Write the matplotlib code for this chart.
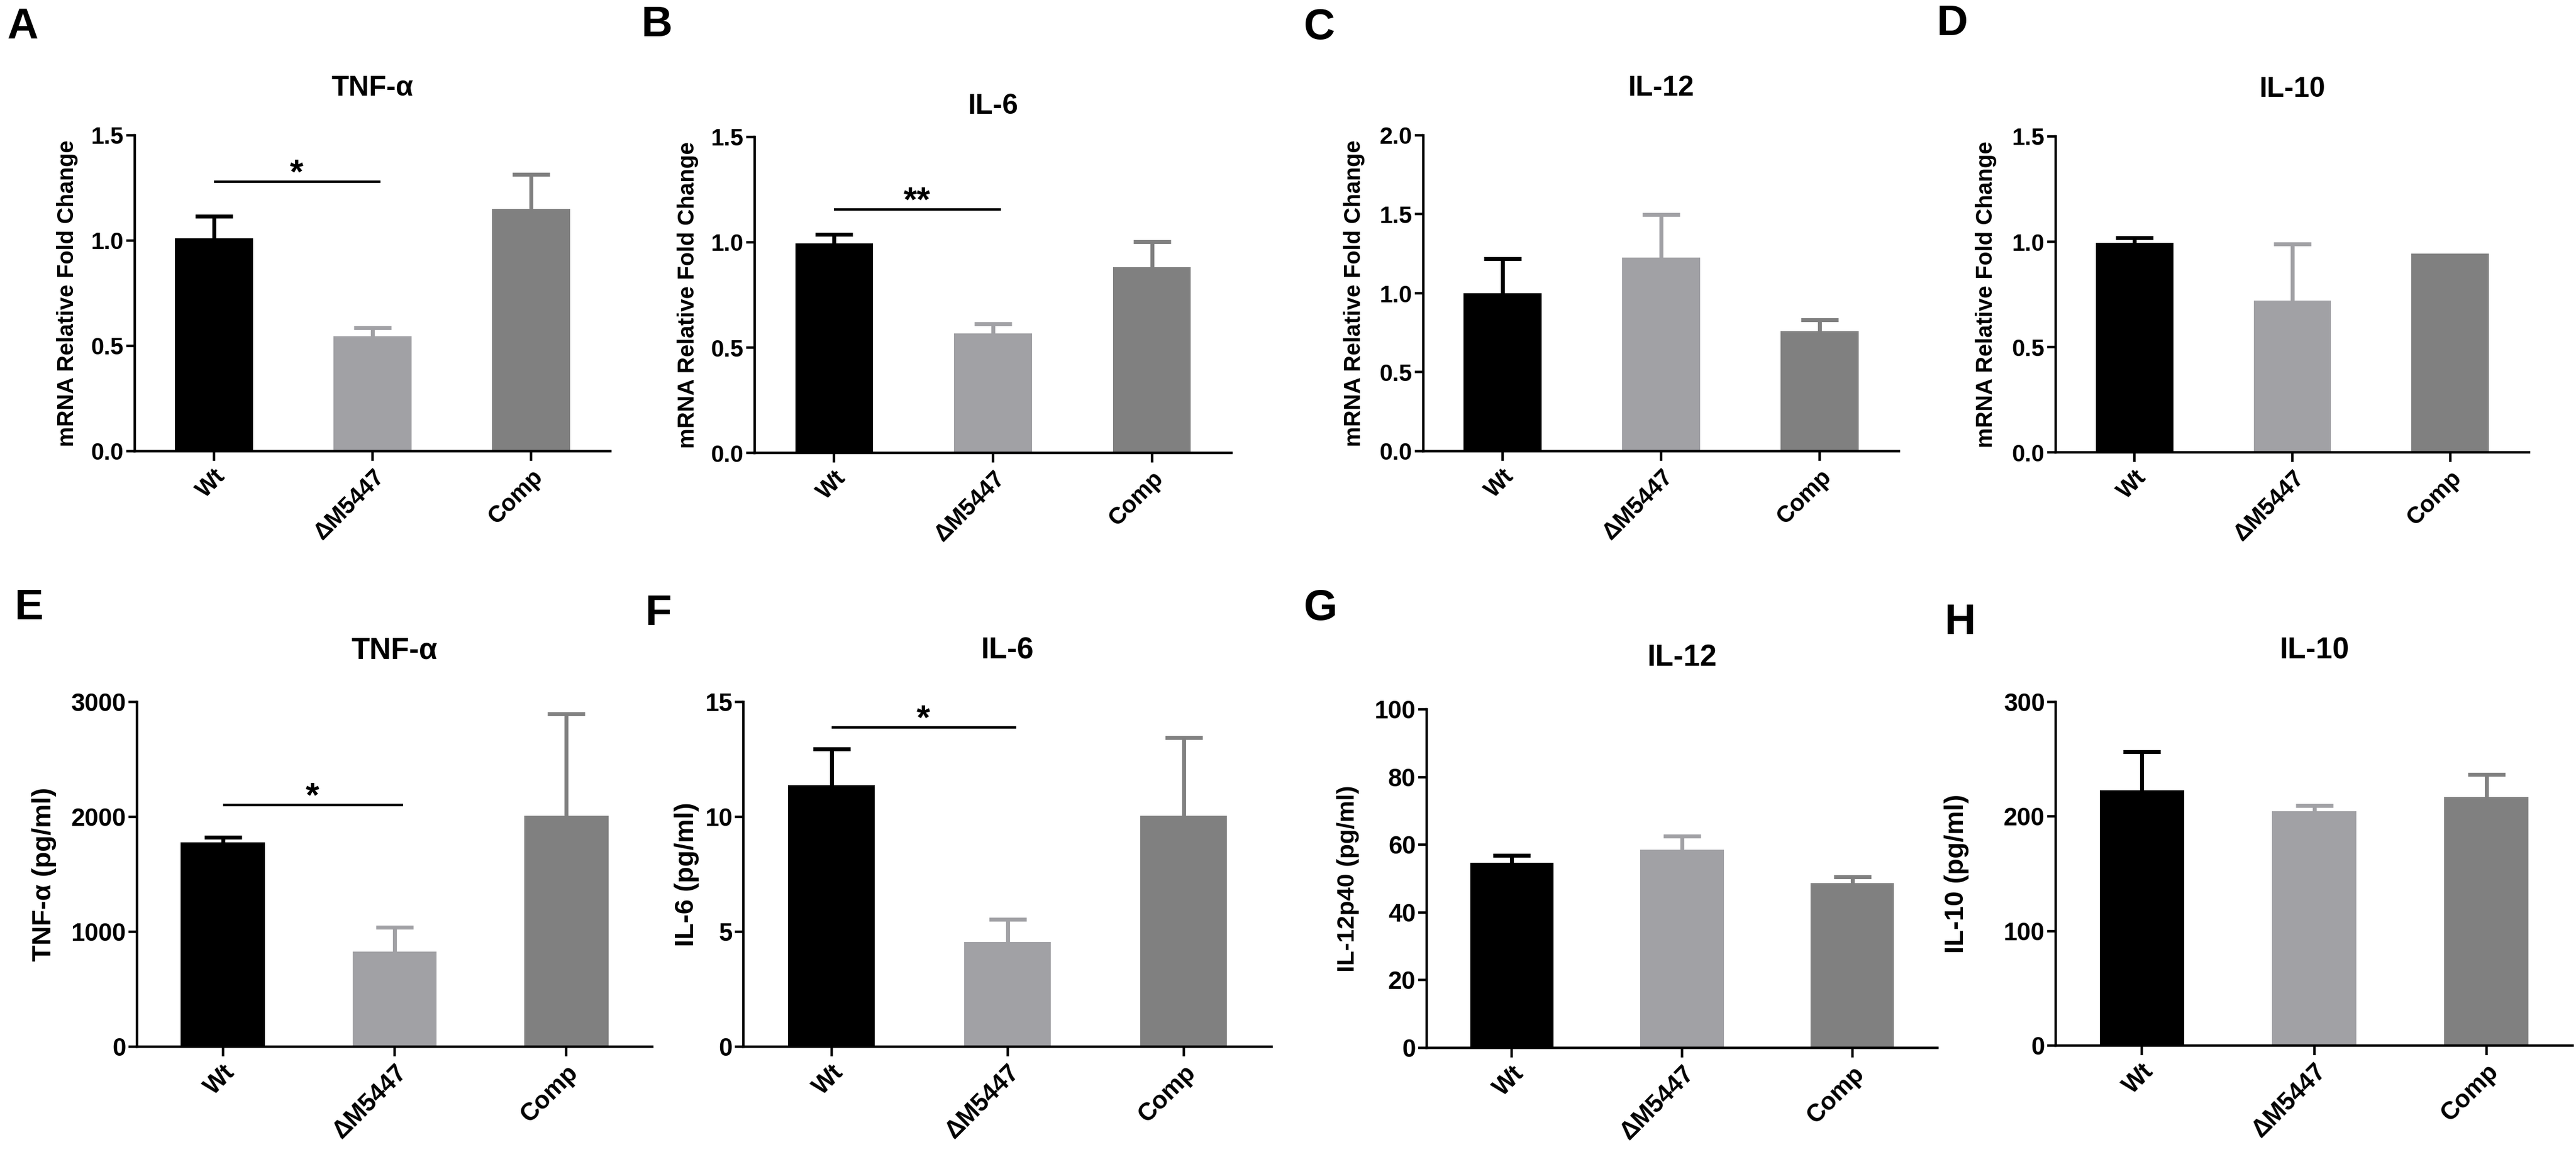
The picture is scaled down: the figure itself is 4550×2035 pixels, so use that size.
import numpy as np
import matplotlib
matplotlib.use("Agg")
import matplotlib.pyplot as plt

plt.rcParams['font.family'] = ['Liberation Sans', 'DejaVu Sans']
plt.rcParams['font.weight'] = 'bold'

groups = ["Wt", "\u0394M5447", "Comp"]
bar_colors = ["#000000", "#a1a1a5", "#808080"]

# mRNA (qPCR), obere Reihe
tnf_mrna = [1.01, 0.545, 1.15]
tnf_mrna_err = [0.105, 0.04, 0.165]
il6_mrna = [0.995, 0.566, 0.883]
il6_mrna_err = [0.042, 0.046, 0.12]
il12_mrna = [1.00, 1.225, 0.76]
il12_mrna_err = [0.218, 0.272, 0.07]
il10_mrna = [0.994, 0.72, 0.944]
il10_mrna_err = [0.026, 0.27, 0.0]

# Protein (ELISA), untere Reihe
tnf_prot = [1780, 830, 2012]
tnf_prot_err = [42, 208, 885]
il6_prot = [11.38, 4.55, 10.04]
il6_prot_err = [1.58, 1.0, 3.41]
il12_prot = [54.7, 58.5, 48.6]
il12_prot_err = [2.2, 4.1, 1.9]
il10_prot = [223, 204.7, 216.8]
il10_prot_err = [33.5, 5.1, 19.8]

panels = [
    # letter, title, ylabel, means, errs, ymax, ystep, fmt, sig
    ("A", "TNF-\u03b1", "mRNA Relative Fold Change", tnf_mrna, tnf_mrna_err, 1.5, 0.5, "{:.1f}", (1.28, "*")),
    ("B", "IL-6", "mRNA Relative Fold Change", il6_mrna, il6_mrna_err, 1.5, 0.5, "{:.1f}", (1.157, "**")),
    ("C", "IL-12", "mRNA Relative Fold Change", il12_mrna, il12_mrna_err, 2.0, 0.5, "{:.1f}", None),
    ("D", "IL-10", "mRNA Relative Fold Change", il10_mrna, il10_mrna_err, 1.5, 0.5, "{:.1f}", None),
    ("E", "TNF-\u03b1", "TNF-\u03b1 (pg/ml)", tnf_prot, tnf_prot_err, 3000, 1000, "{:.0f}", (2105, "*")),
    ("F", "IL-6", "IL-6 (pg/ml)", il6_prot, il6_prot_err, 15, 5, "{:.0f}", (13.9, "*")),
    ("G", "IL-12", "IL-12p40 (pg/ml)", il12_prot, il12_prot_err, 100, 20, "{:.0f}", None),
    ("H", "IL-10", "IL-10 (pg/ml)", il10_prot, il10_prot_err, 300, 100, "{:.0f}", None),
]

# Layout in Pixeln: links, rechts, oben, unten
boxes = [
    (238, 1078, 239, 797), (1333, 2175, 242, 800), (2514, 3354, 239, 797), (3631, 4467, 241, 799),
    (242, 1152, 1240, 1849), (1313, 2246, 1240, 1849), (2520, 3422, 1253, 1851), (3631, 4544, 1240, 1847),
]
title_y = [156, 188, 156, 158, 1149, 1149, 1162, 1149]
ylabel_x = [119, 1215, 2392, 3508, 78, 1213, 2381, 3456]
ylabel_fs = [29, 29, 29, 29, 34, 34, 31, 34]
letter_pos = [(40, 49), (1160, 45), (2330, 49), (3448, 43), (51, 1075), (1163, 1084), (2333, 1075), (3462, 1100)]

W, H = 4550, 2035
fig = plt.figure(figsize=(W / 100, H / 100), dpi=100)

for i, (letter, title, ylabel, means, errs, ymax, ystep, fmt, sig) in enumerate(panels):
    l, r, t, b = boxes[i]
    ax = fig.add_axes([l / W, 1 - b / H, (r - l) / W, (b - t) / H])
    top_row = i < 4
    tick_fs = 30 if top_row else 31.5
    x = np.arange(len(groups))

    ax.bar(x, means, width=0.49, color=bar_colors, zorder=2)
    for k in range(len(groups)):
        if errs[k] <= 0:
            continue
        eb = ax.errorbar(x[k], means[k], yerr=[[0], [errs[k]]], fmt='none',
                         ecolor=bar_colors[k], elinewidth=5, capsize=24, capthick=5, zorder=1)
        eb[1][0].set_visible(False)

    if sig is not None:
        ys, star = sig
        ax.plot([0, 1.05], [ys, ys], color='black', lw=3.2, solid_capstyle='butt', clip_on=False)
        ax.annotate(star, (0.52, ys), xytext=(0, -2), textcoords='offset points',
                    ha='center', va='baseline', fontsize=44, fontweight='bold')

    ax.set_xlim(-0.5, 2.5)
    ax.set_ylim(0, ymax)
    yt = np.arange(0, ymax + ystep / 2, ystep)
    ax.set_yticks(yt)
    ax.set_yticklabels([fmt.format(v) for v in yt], fontsize=tick_fs, fontweight='bold')
    ax.set_xticks(x)
    ax.set_xticklabels(groups, rotation=45, ha='right', rotation_mode='anchor',
                       fontsize=tick_fs, fontweight='bold')

    for s in ['top', 'right']:
        ax.spines[s].set_visible(False)
    for s in ['left', 'bottom']:
        ax.spines[s].set_linewidth(3.2)
    ax.tick_params(axis='y', direction='out', length=11, width=3.2, pad=3)
    ax.tick_params(axis='x', direction='out', length=12, width=3.2, pad=6)

    cx = (l + r) / 2
    fig.text(cx / W, 1 - title_y[i] / H, title, ha='center', va='center',
             fontsize=36 if top_row else 38, fontweight='bold')
    fig.text(ylabel_x[i] / W, 1 - (t + b) / 2 / H, ylabel, rotation=90, ha='center', va='center',
             fontsize=ylabel_fs[i], fontweight='bold')
    lx, ly = letter_pos[i]
    fig.text(lx / W, 1 - ly / H, letter, ha='center', va='center', fontsize=55, fontweight='bold')

fig.savefig("out.png", dpi=100, facecolor='white')
